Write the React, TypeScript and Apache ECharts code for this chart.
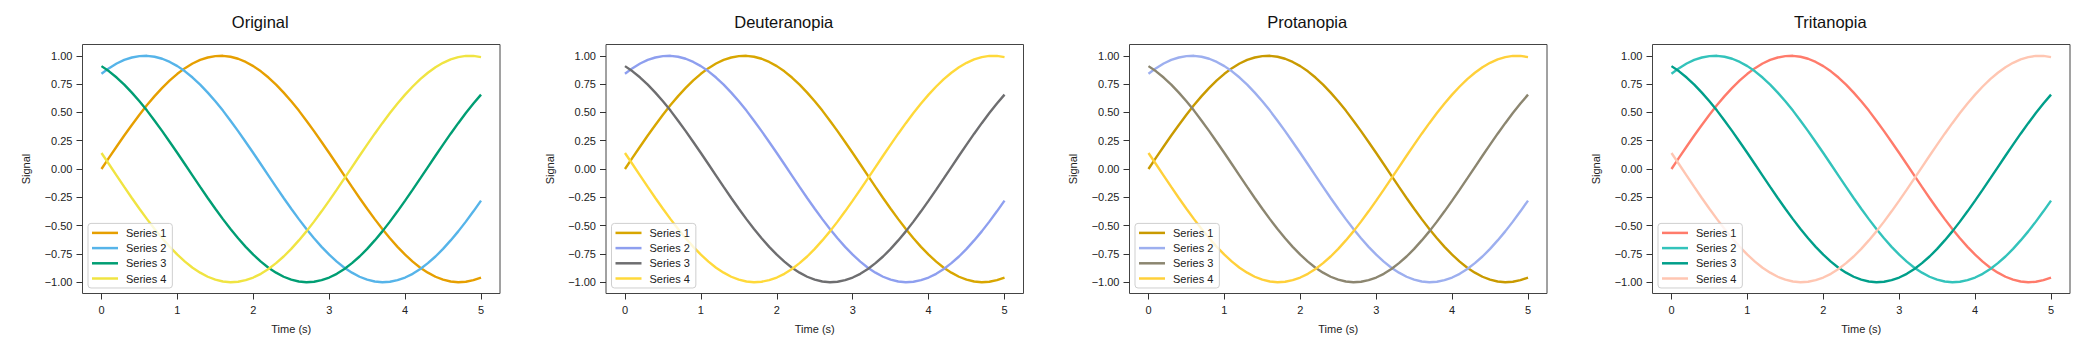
import React, { useEffect, useRef } from "react";
import * as echarts from "echarts";

const panelTitles = ["Original", "Deuteranopia", "Protanopia", "Tritanopia"];
const seriesNames = ["Series 1", "Series 2", "Series 3", "Series 4"];

const panelColors = [
  ["#E69F00", "#56B4E9", "#009E73", "#F0E442"],
  ["#D8A600", "#8E9FEF", "#6E6E70", "#FFD93A"],
  ["#C99A00", "#9DAFEF", "#8C8670", "#FFD03A"],
  ["#FF7B6B", "#33C3BB", "#009F8A", "#FFC6B2"],
];

const timeValues = [
  0.0, 0.1, 0.2, 0.3, 0.4, 0.5, 0.6, 0.7, 0.8, 0.9, 1.0, 1.1, 1.2, 1.3, 1.4, 1.5, 1.6, 1.7, 1.8, 1.9,
  2.0, 2.1, 2.2, 2.3, 2.4, 2.5, 2.6, 2.7, 2.8, 2.9, 3.0, 3.1, 3.2, 3.3, 3.4, 3.5, 3.6, 3.7, 3.8, 3.9,
  4.0, 4.1, 4.2, 4.3, 4.4, 4.5, 4.6, 4.7, 4.8, 4.9, 5.0,
];

const series1 = [
  0.0, 0.1, 0.199, 0.296, 0.389, 0.479, 0.565, 0.644, 0.717, 0.783, 0.841,
  0.891, 0.932, 0.964, 0.985, 0.997, 1.0, 0.992, 0.974, 0.946, 0.909,
  0.863, 0.808, 0.746, 0.675, 0.598, 0.516, 0.427, 0.335, 0.239, 0.141,
  0.042, -0.058, -0.158, -0.256, -0.351, -0.443, -0.53, -0.612, -0.688, -0.757,
  -0.818, -0.872, -0.916, -0.952, -0.978, -0.994, -1.0, -0.996, -0.982, -0.959,
];
const series2 = [
  0.841, 0.891, 0.932, 0.964, 0.985, 0.997, 1.0, 0.992, 0.974, 0.946, 0.909,
  0.863, 0.808, 0.746, 0.675, 0.598, 0.516, 0.427, 0.335, 0.239, 0.141,
  0.042, -0.058, -0.158, -0.256, -0.351, -0.443, -0.53, -0.612, -0.688, -0.757,
  -0.818, -0.872, -0.916, -0.952, -0.978, -0.994, -1.0, -0.996, -0.982, -0.959,
  -0.926, -0.883, -0.832, -0.773, -0.706, -0.631, -0.551, -0.465, -0.374, -0.279,
];
const series3 = [
  0.909, 0.863, 0.808, 0.746, 0.675, 0.598, 0.516, 0.427, 0.335, 0.239, 0.141,
  0.042, -0.058, -0.158, -0.256, -0.351, -0.443, -0.53, -0.612, -0.688, -0.757,
  -0.818, -0.872, -0.916, -0.952, -0.978, -0.994, -1.0, -0.996, -0.982, -0.959,
  -0.926, -0.883, -0.832, -0.773, -0.706, -0.631, -0.551, -0.465, -0.374, -0.279,
  -0.182, -0.083, 0.017, 0.117, 0.215, 0.312, 0.405, 0.494, 0.578, 0.657,
];
const series4 = [
  0.141, 0.042, -0.058, -0.158, -0.256, -0.351, -0.443, -0.53, -0.612, -0.688, -0.757,
  -0.818, -0.872, -0.916, -0.952, -0.978, -0.994, -1.0, -0.996, -0.982, -0.959,
  -0.926, -0.883, -0.832, -0.773, -0.706, -0.631, -0.551, -0.465, -0.374, -0.279,
  -0.182, -0.083, 0.017, 0.117, 0.215, 0.312, 0.405, 0.494, 0.578, 0.657,
  0.729, 0.794, 0.85, 0.899, 0.938, 0.968, 0.988, 0.999, 0.999, 0.989,
];
const allSeries = [series1, series2, series3, series4];

const xTicks = [0, 1, 2, 3, 4, 5];
const yTicks = [-1, -0.75, -0.5, -0.25, 0, 0.25, 0.5, 0.75, 1];

const FONT = "'Liberation Sans', Arial, Helvetica, sans-serif";

export default function App() {
  const ref = useRef<HTMLDivElement>(null);
  useEffect(() => {
    if (!ref.current) return;
    const chart = echarts.init(ref.current, undefined, { renderer: "svg" });
    const lefts = [82.5, 606, 1129.5, 1652.5];
    const gw = 417.5;
    const gtop = 44.5;
    const gh = 249;
    const grid: any[] = [];
    const xAxis: any[] = [];
    const yAxis: any[] = [];
    const title: any[] = [];
    const legend: any[] = [];
    const series: any[] = [];
    lefts.forEach((l, p) => {
      grid.push({
        left: l,
        top: gtop,
        width: gw,
        height: gh,
        show: true,
        borderColor: "#444",
        borderWidth: 1,
        backgroundColor: "transparent",
        containLabel: false,
      });
      xAxis.push({
        type: "value",
        gridIndex: p,
        position: "bottom",
        min: -0.25,
        max: 5.25,
        name: "Time (s)",
        nameLocation: "middle",
        nameGap: 30,
        nameTextStyle: { fontFamily: FONT, fontSize: 11, color: "#222" },
        axisLine: { show: false, onZero: false },
        splitLine: { show: false },
        axisTick: { show: true, inside: false, length: 6, customValues: xTicks, lineStyle: { color: "#333", width: 1 } },
        axisLabel: {
          customValues: xTicks,
          margin: 11,
          fontFamily: FONT,
          fontSize: 11,
          color: "#222",
          formatter: (v: number) => String(v),
        },
      });
      yAxis.push({
        type: "value",
        gridIndex: p,
        position: "left",
        min: -1.1,
        max: 1.1,
        name: "Signal",
        nameLocation: "middle",
        nameGap: 51,
        nameRotate: 90,
        nameTextStyle: { fontFamily: FONT, fontSize: 11, color: "#222" },
        axisLine: { show: false, onZero: false },
        splitLine: { show: false },
        axisTick: { show: true, inside: false, length: 6, customValues: yTicks, lineStyle: { color: "#333", width: 1 } },
        axisLabel: {
          customValues: yTicks,
          margin: 10,
          fontFamily: FONT,
          fontSize: 11,
          color: "#222",
          formatter: (v: number) => v.toFixed(2).replace("-", "\u2212"),
        },
      });
      title.push({
        text: panelTitles[p],
        left: l + gw / 2 - 31,
        top: 13.5,
        textAlign: "center",
        padding: 0,
        textStyle: { fontFamily: FONT, fontSize: 16.5, fontWeight: "normal", color: "#111" },
      });
      const names = seriesNames.map((n) => panelTitles[p] + "|" + n);
      legend.push({
        data: names,
        orient: "vertical",
        left: l + 5.5,
        bottom: 357 - (gtop + gh) + 5.5,
        icon: "rect",
        itemWidth: 26,
        itemHeight: 2.5,
        itemGap: 4.2,
        padding: [4, 6, 4, 4],
        backgroundColor: "rgba(255,255,255,0.8)",
        borderColor: "#cfcfcf",
        borderWidth: 1,
        borderRadius: 3,
        selectedMode: false,
        formatter: (name: string) => name.split("|")[1],
        textStyle: { fontFamily: FONT, fontSize: 11, color: "#222", padding: [0, 0, 0, 3] },
      });
      allSeries.forEach((vals, s) => {
        series.push({
          type: "line",
          name: names[s],
          xAxisIndex: p,
          yAxisIndex: p,
          data: timeValues.map((t, i) => [t, vals[i]]),
          showSymbol: false,
          symbol: "none",
          color: panelColors[p][s],
          lineStyle: { width: 2.4, color: panelColors[p][s] },
          emphasis: { disabled: true },
        });
      });
    });
    chart.setOption({
      animation: false,
      backgroundColor: "#fff",
      title,
      legend,
      grid,
      xAxis,
      yAxis,
      series,
    });
    return () => chart.dispose();
  }, []);
  return (
    <div
      ref={ref}
      style={{ position: "absolute", left: 0, top: 0, width: 2090, height: 357 }}
    />
  );
}
